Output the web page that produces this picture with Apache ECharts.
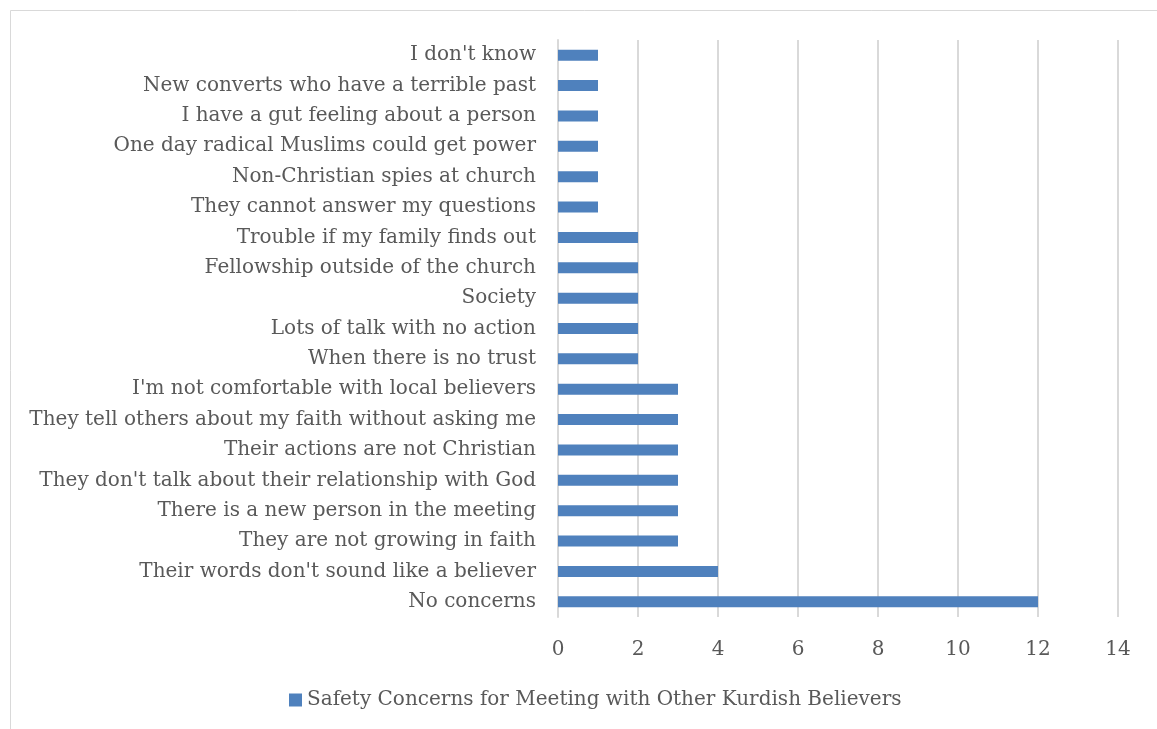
<!DOCTYPE html>
<html><head><meta charset="utf-8">
<script src="https://cdn.jsdelivr.net/npm/echarts@6/dist/echarts.min.js"></script>
<style>html,body{margin:0;padding:0;background:#fff}#c{width:1157px;height:729px}</style>
</head><body><div id="c"></div>
<script>
const categories = [
  "No concerns",
  "Their words don't sound like a believer",
  "They are not growing in faith",
  "There is a new person in the meeting",
  "They don't talk about their relationship with God",
  "Their actions are not Christian",
  "They tell others about my faith without asking me",
  "I'm not comfortable with local believers",
  "When there is no trust",
  "Lots of talk with no action",
  "Society",
  "Fellowship outside of the church",
  "Trouble if my family finds out",
  "They cannot answer my questions",
  "Non-Christian spies at church",
  "One day radical Muslims could get power",
  "I have a gut feeling about a person",
  "New converts who have a terrible past",
  "I don't know"
];
const values = [12,4,3,3,3,3,3,3,2,2,2,2,2,1,1,1,1,1,1];
const seriesName = "Safety Concerns for Meeting with Other Kurdish Believers";
const FONT = "DejaVu Serif";
const chart = echarts.init(document.getElementById('c'), null, {renderer:'canvas'});
chart.setOption({
  animation:false,
  backgroundColor:'#fff',
  graphic:[{type:'rect',shape:{x:10.5,y:10.5,width:1300,height:900},style:{fill:'none',stroke:'#d9d9d9',lineWidth:1}}],
  grid:{left:558,right:39,top:40,bottom:112},
  legend:{bottom:14,left:284,itemWidth:13,itemHeight:13,itemGap:6,icon:'rect',
    textStyle:{fontFamily:FONT,fontSize:20,color:'#595959'},data:[seriesName]},
  xAxis:{type:'value',min:0,max:14,interval:2,
    axisLine:{show:false},axisTick:{show:false},
    splitLine:{lineStyle:{color:'#d9d9d9',width:2}},
    axisLabel:{fontFamily:FONT,fontSize:20,color:'#595959',margin:23}},
  yAxis:{type:'category',data:categories,
    axisLine:{show:true,lineStyle:{color:'#d9d9d9',width:2}},axisTick:{show:false},
    axisLabel:{fontFamily:FONT,fontSize:20,color:'#595959',margin:22}},
  series:[{type:'bar',name:seriesName,data:values,barWidth:11,itemStyle:{color:'#4F81BD'}}]
});
</script></body></html>
